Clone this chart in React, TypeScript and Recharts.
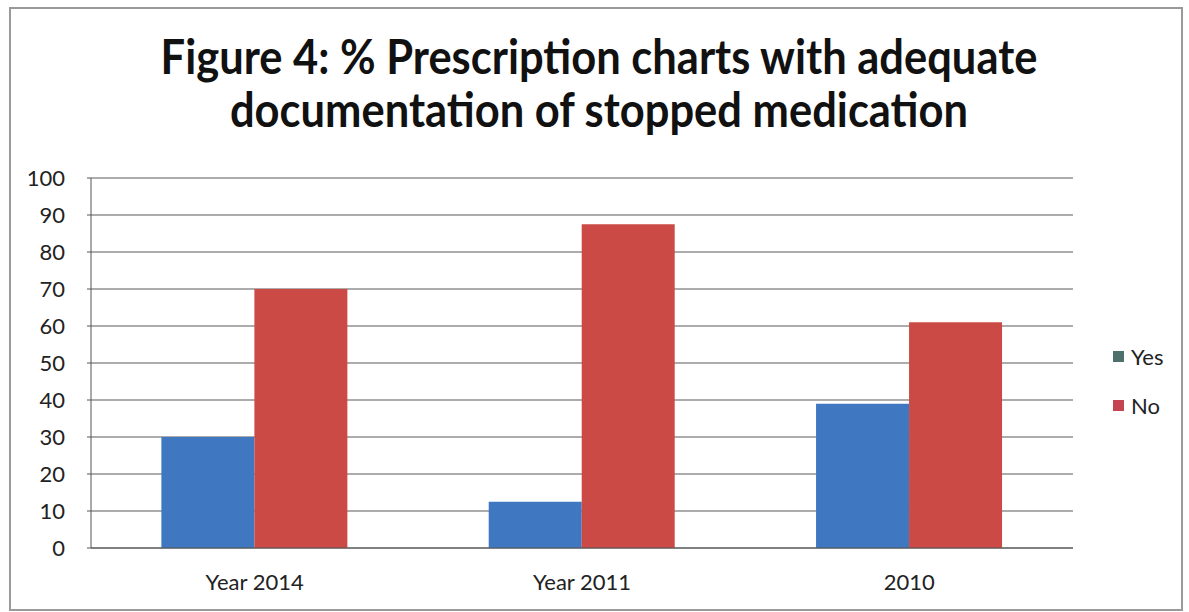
import React from "react";
import { BarChart, Bar, XAxis, YAxis, CartesianGrid, Legend } from "recharts";

const categories = ["Year 2014", "Year 2011", "2010"];
const yesValues = [30, 12.5, 39];
const noValues = [70, 87.5, 61];
const yTicks = [0, 10, 20, 30, 40, 50, 60, 70, 80, 90, 100];
const titleLines = ["Figure 4: % Prescription charts with adequate", "documentation of stopped medication"];

const data = categories.map((c, i) => ({ name: c, Yes: yesValues[i], No: noValues[i] }));

const YES_COLOR = "#4077c1";
const NO_COLOR = "#cb4a45";
const FONT = "Lato, 'Open Sans', sans-serif";

const LegendContent = () => (
  <div style={{ fontFamily: FONT, fontSize: 22, color: "#222" }}>
    {[
      { label: "Yes", color: "#4e706c" },
      { label: "No", color: "#c3444f" },
    ].map((it, i) => (
      <div key={it.label} style={{ display: "flex", alignItems: "center", height: 26, marginTop: i === 0 ? 0 : 23 }}>
        <span style={{ display: "inline-block", width: 11, height: 11, background: it.color, marginRight: 7 }} />
        <span>{it.label}</span>
      </div>
    ))}
  </div>
);

export default function App() {
  return (
    <div style={{ position: "absolute", left: 0, top: 0, width: 1189, height: 612, background: "#fff", overflow: "hidden" }}>
      <div style={{ position: "absolute", left: 9, top: 7, width: 1170, height: 600, border: "2px solid #9a9a9a" }} />
      <div
        style={{
          position: "absolute",
          left: 0,
          top: 30,
          width: 1198,
          textAlign: "center",
          fontFamily: FONT,
          fontWeight: 700,
          fontSize: 47,
          lineHeight: "53px",
          color: "#111",
          transform: "scaleX(0.925)",
          transformOrigin: "599px 0",
        }}
      >
        {titleLines.map((l) => (
          <div key={l}>{l}</div>
        ))}
      </div>
      <div style={{ position: "absolute", left: 0, top: 0 }}>
        <BarChart
          width={1189}
          height={612}
          data={data}
          margin={{ top: 178, right: 36, bottom: 24, left: 31 }}
          barCategoryGap="21.5%"
          barGap={0}
        >
          <CartesianGrid vertical={false} stroke="#5a5a5a" strokeWidth={1.2} />
          <XAxis
            dataKey="name"
            height={40}
            stroke="#555"
            tickLine={false}
            tick={{ fill: "#222", fontSize: 22, fontFamily: FONT }}
            tickMargin={20}
          />
          <YAxis
            width={60}
            domain={[0, 100]}
            ticks={yTicks}
            interval={0}
            stroke="#555"
            tickSize={4}
            tick={{ fill: "#222", fontSize: 22, fontFamily: FONT }}
            tickMargin={22}
          />
          <Legend
            layout="vertical"
            align="right"
            verticalAlign="middle"
            content={<LegendContent />}
            wrapperStyle={{ left: 1113, top: 343, width: 80, right: "auto" }}
          />
          <Bar dataKey="Yes" fill={YES_COLOR} isAnimationActive={false} />
          <Bar dataKey="No" fill={NO_COLOR} isAnimationActive={false} />
        </BarChart>
      </div>
    </div>
  );
}
